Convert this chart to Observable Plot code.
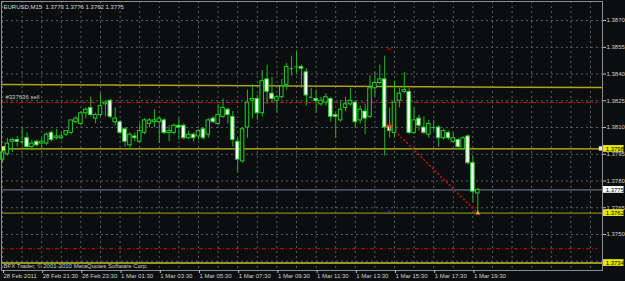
<!DOCTYPE html>
<html><head><meta charset="utf-8">
<script src="https://cdn.jsdelivr.net/npm/d3@7"></script>
<script src="https://cdn.jsdelivr.net/npm/@observablehq/plot@0.6"></script>
<style>
html,body{margin:0;padding:0;background:#0b0d0f;}
svg{display:block}
</style></head><body><div id="chart"></div>
<script>
// EURUSD M15 candles, bar 0 = 28 Feb 2011 19:30 ... bar 97 = 1 Mar 19:45
const opens = [1.3792,1.3795,1.3802,1.3803,1.3802,1.3804,1.3799,1.3802,1.3801,1.3801,
1.3807,1.3804,1.3804,1.3806,1.3807,1.3813,1.3812,1.3818,1.3821,1.3815,
1.3817,1.3823,1.3825,1.3813,1.3813,1.3809,1.3800,1.3805,1.3802,1.3807,
1.3812,1.3813,1.3813,1.3814,1.3807,1.3807,1.3811,1.3811,1.3804,1.3806,
1.3805,1.3809,1.3806,1.3815,1.3812,1.3816,1.3820,1.3816,1.3802,1.3791,
1.3810,1.3825,1.3826,1.3818,1.3837,1.3829,1.3825,1.3827,1.3834,1.3843,
1.3844,1.3844,1.3841,1.3827,1.3826,1.3823,1.3824,1.3826,1.3817,1.3814,
1.3821,1.3823,1.3824,1.3814,1.3819,1.3816,1.3832,1.3835,1.3837,1.3811,
1.3807,1.3825,1.3830,1.3830,1.3807,1.3815,1.3810,1.3806,1.3810,1.3810,
1.3804,1.3807,1.3802,1.3803,1.3798,1.3805,1.3790,1.3773];
const highs = [1.3797,1.3804,1.3804,1.3805,1.3810,1.3807,1.3803,1.3803,1.3804,1.3807,
1.3808,1.3809,1.3807,1.3808,1.3814,1.3816,1.3819,1.3821,1.3827,1.3818,
1.3829,1.3825,1.3826,1.3821,1.3814,1.3810,1.3807,1.3807,1.3812,1.3815,
1.3815,1.3820,1.3816,1.3815,1.3811,1.3812,1.3815,1.3812,1.3808,1.3807,
1.3809,1.3810,1.3815,1.3816,1.3823,1.3826,1.3821,1.3819,1.3804,1.3810,
1.3831,1.3834,1.3828,1.3842,1.3845,1.3838,1.3828,1.3837,1.3846,1.3850,
1.3853,1.3845,1.3843,1.3832,1.3831,1.3827,1.3829,1.3827,1.3818,1.3825,
1.3827,1.3832,1.3825,1.3822,1.3823,1.3839,1.3841,1.3845,1.3850,1.3821,
1.3836,1.3832,1.3841,1.3832,1.3821,1.3817,1.3816,1.3814,1.3814,1.3811,
1.3809,1.3808,1.3807,1.3804,1.3805,1.3806,1.3794,1.3776];
const lows = [1.3790,1.3794,1.3796,1.3799,1.3800,1.3797,1.3797,1.3799,1.3797,1.3800,
1.3802,1.3803,1.3803,1.3805,1.3806,1.3812,1.3811,1.3815,1.3816,1.3812,
1.3816,1.3816,1.3815,1.3811,1.3806,1.3799,1.3798,1.3802,1.3801,1.3806,
1.3810,1.3810,1.3801,1.3806,1.3802,1.3806,1.3803,1.3803,1.3803,1.3802,
1.3803,1.3803,1.3804,1.3812,1.3811,1.3815,1.3812,1.3799,1.3785,1.3790,
1.3804,1.3815,1.3814,1.3816,1.3823,1.3824,1.3818,1.3826,1.3831,1.3839,
1.3840,1.3832,1.3822,1.3826,1.3818,1.3822,1.3822,1.3813,1.3804,1.3813,
1.3819,1.3822,1.3810,1.3812,1.3806,1.3815,1.3827,1.3834,1.3794,1.3804,
1.3804,1.3821,1.3829,1.3806,1.3806,1.3808,1.3806,1.3804,1.3808,1.3799,
1.3803,1.3803,1.3801,1.3798,1.3797,1.3789,1.3768,1.3762];
const closes = [1.3796,1.3801,1.3803,1.3802,1.3802,1.3799,1.3801,1.3800,1.3802,1.3806,
1.3803,1.3805,1.3805,1.3808,1.3814,1.3815,1.3818,1.3820,1.3817,1.3817,
1.3822,1.3824,1.3816,1.3815,1.3807,1.3802,1.3806,1.3804,1.3808,1.3814,
1.3814,1.3814,1.3815,1.3807,1.3808,1.3811,1.3810,1.3804,1.3806,1.3804,
1.3808,1.3804,1.3814,1.3813,1.3817,1.3821,1.3817,1.3803,1.3792,1.3809,
1.3824,1.3826,1.3818,1.3836,1.3830,1.3826,1.3827,1.3833,1.3844,1.3843,
1.3844,1.3843,1.3828,1.3827,1.3825,1.3825,1.3827,1.3816,1.3816,1.3820,
1.3823,1.3825,1.3813,1.3820,1.3815,1.3832,1.3835,1.3837,1.3810,1.3808,
1.3824,1.3829,1.3831,1.3807,1.3814,1.3811,1.3807,1.3812,1.3810,1.3804,
1.3808,1.3804,1.3804,1.3799,1.3804,1.3790,1.3774,1.3775];

const priceTicks = [1.3870,1.3855,1.3840,1.3825,1.3810,1.3795,1.3780,1.3765,1.3750,1.3735];
const priceLabelTicks = [1.3870,1.3855,1.3840,1.3825,1.3810,1.3795,1.3780,1.3765,1.3750];
const gridIdx = d3.range(0, 121, 4);
const labelIdx = [0,8,16,24,32,40,48,56,64,72,80,88,96];
const timeLabels = ["28 Feb 2011","28 Feb 21:30","28 Feb 23:30","1 Mar 01:30","1 Mar 03:30","1 Mar 05:30",
"1 Mar 07:30","1 Mar 09:30","1 Mar 11:30","1 Mar 13:30","1 Mar 15:30","1 Mar 17:30","1 Mar 19:30"];

const yellowLevels = [1.3798, 1.3734];
const oliveLevels = [1.3762];
const bidPrice = 1.3775;
const yellowBoxes = [1.3798, 1.3762, 1.3734];
const whiteBoxes = [1.3775];
const trendLine = [{i:-0.2, p:1.38341},{i:122.4, p:1.38324}];
const orderLevels = [1.3824, 1.3742];
const orderLabel = "#337636 sell";
const tradeLine = [{i:79, p:1.3811},{i:97, p:1.3762}];
const stopMark = [{i:79, p:1.3854}];
const tpMark = [{i:79, p:1.3763}];

const bars = opens.map((o,i)=>({i, open:o, high:highs[i], low:lows[i], close:closes[i]}));
const bull = bars.filter(d=>d.close>d.open);
const bear = bars.filter(d=>d.close<d.open);
const doji = bars.filter(d=>d.close===d.open);
const last = bars[bars.length-1];
const header = `EURUSD,M15  ${last.open.toFixed(4)} ${last.high.toFixed(4)} ${last.low.toFixed(4)} ${last.close.toFixed(4)}`;

const G = "#22d022", GW = "#1db81d";
const hw = 0.36;

const chart = Plot.plot({
  width:625, height:281, marginLeft:1, marginRight:23, marginTop:1, marginBottom:11,
  style:{background:"#0b0d0f", fontFamily:"'Liberation Sans', Arial, sans-serif", fontSize:"6px", color:"#d0d0d0", overflow:"visible"},
  x:{type:"linear", domain:[-0.204, 122.449]},
  y:{domain:[1.37298, 1.38807]},
  marks:[
    Plot.ruleY(priceTicks, {stroke:"#56606b", strokeDasharray:"2,3"}),
    Plot.ruleX(gridIdx, {stroke:"#56606b", strokeDasharray:"2,3"}),
    Plot.line(trendLine, {x:"i", y:"p", stroke:"#a8a41e"}),
    Plot.ruleY(orderLevels, {x1:-0.2, x2:121.5, stroke:"#d01010", strokeDasharray:"4,2,1,2"}),
    Plot.ruleY(yellowLevels, {stroke:"#c8c414", strokeWidth:1.3}),
    Plot.ruleY(oliveLevels, {stroke:"#8a871c", strokeWidth:1.3}),
    Plot.ruleY([bidPrice], {stroke:"#778899"}),
    Plot.line(tradeLine, {x:"i", y:"p", stroke:"#c01010", strokeDasharray:"1,3"}),
    Plot.ruleX(bars, {x:"i", y1:"low", y2:"high", stroke:GW}),
    Plot.rect(bull, {x1:d=>d.i-hw, x2:d=>d.i+hw, y1:"open", y2:"close", fill:"#0b0d0f", stroke:G}),
    Plot.rect(bear, {x1:d=>d.i-hw, x2:d=>d.i+hw, y1:"open", y2:"close", fill:"#ffffff", stroke:G}),
    Plot.ruleY(doji, {y:"open", x1:d=>d.i-hw, x2:d=>d.i+hw, stroke:G}),
    Plot.dot(tradeLine.slice(0,1), {x:"i", y:"p", symbol:"plus", r:2.5, stroke:"#ff2a2a", strokeWidth:1.5}),
    Plot.dot(tradeLine.slice(1), {x:"i", y:"p", symbol:"triangle", r:1.8, fill:"#f0a040"}),
    Plot.ruleY(stopMark, {y:"p", x1:d=>d.i-0.4, x2:d=>d.i+0.4, stroke:"#a00000", strokeWidth:1.5}),
    Plot.ruleY(tpMark, {y:"p", x1:d=>d.i-0.3, x2:d=>d.i+0.3, stroke:"#2030c0", strokeWidth:1.5}),
    Plot.rect(yellowLevels.slice(0,1), {x1:-0.2, x2:0.6, y1:d=>d-0.00012, y2:d=>d+0.00012, fill:"#f0f060"}),
    Plot.rect(yellowLevels.slice(0,1), {x1:121.8, x2:122.6, y1:d=>d-0.00012, y2:d=>d+0.00012, fill:"#f4f4c0"}),
    Plot.text([orderLabel], {x:0.6, y:orderLevels[0], dy:-5.5, text:d=>d, textAnchor:"start", fill:"#c8c8c8", fontSize:6}),
    Plot.text([header], {frameAnchor:"top-left", dx:2, dy:3, text:d=>d, lineAnchor:"top", textAnchor:"start", fill:"#d8d8d8", fontSize:6}),
    Plot.text(["BFX Trader, © 2001-2010 MetaQuotes Software Corp."], {frameAnchor:"bottom-left", dx:2, dy:-3, text:d=>d, lineAnchor:"bottom", textAnchor:"start", fill:"#c8c8c8", fontSize:6}),
    Plot.frame({stroke:"#8c8c8c"}),
    Plot.axisY({anchor:"right", ticks:priceLabelTicks, tickFormat:d=>d.toFixed(4), tickSize:3, tickPadding:1, stroke:"#c0c0c0", fill:"#d0d0d0", fontSize:6, label:null}),
    Plot.axisX({ticks:labelIdx, tickFormat:i=>timeLabels[labelIdx.indexOf(i)], tickSize:3, tickPadding:0, textAnchor:"start", dx:1, stroke:"#c0c0c0", fill:"#d0d0d0", fontSize:6, label:null}),
    Plot.rect(yellowBoxes, {x1:122.65, x2:126.85, y1:d=>d-0.00019, y2:d=>d+0.00019, fill:"#e8e800"}),
    Plot.rect(whiteBoxes, {x1:122.65, x2:126.85, y1:d=>d-0.00019, y2:d=>d+0.00019, fill:"#ffffff"}),
    Plot.text(yellowBoxes.concat(whiteBoxes), {x:123.1, y:d=>d, text:d=>d.toFixed(4), textAnchor:"start", fill:"#000000", fontSize:6})
  ]
});
document.getElementById("chart").appendChild(chart);
</script></body></html>
